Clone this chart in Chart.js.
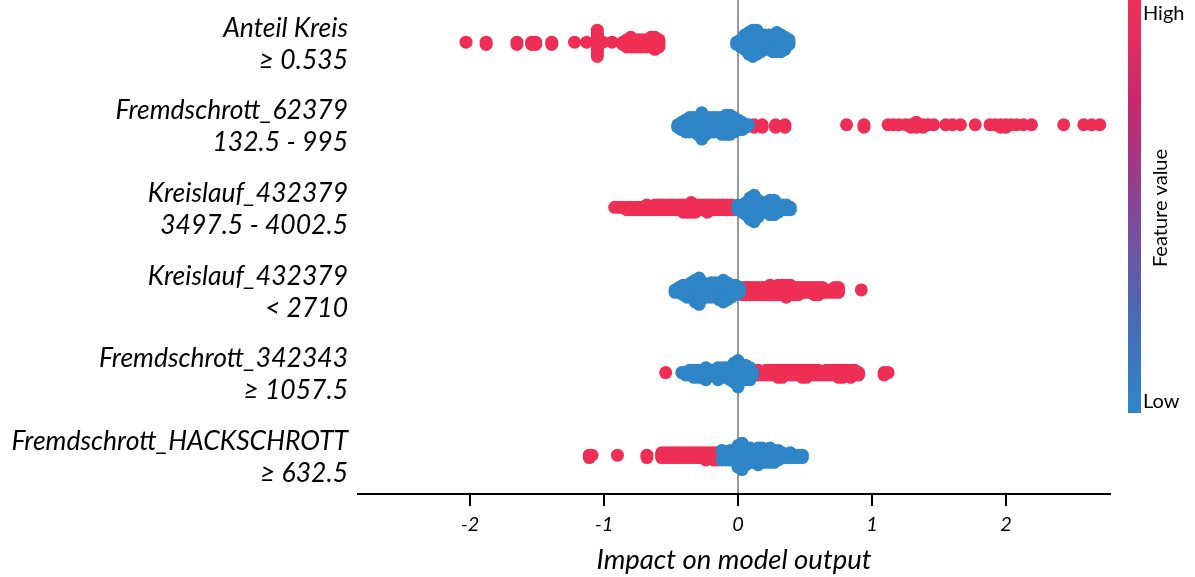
<!DOCTYPE html>
<html><head><meta charset="utf-8">
<script src="https://cdn.jsdelivr.net/npm/chart.js@4/dist/chart.umd.min.js"></script>
<style>html,body{margin:0;padding:0;background:#fff;}#wrap{width:1195px;height:577px;}</style>
</head><body><div id="wrap"><canvas id="c" width="1195" height="577"></canvas></div>
<script>
// ---------- DATA ----------
const featureNames = ['Anteil Kreis', 'Fremdschrott_62379', 'Kreislauf_432379', 'Kreislauf_432379', 'Fremdschrott_342343', 'Fremdschrott_HACKSCHROTT'];
const featureRanges = ['\u2265 0.535', '132.5 - 995', '3497.5 - 4002.5', '< 2710', '\u2265 1057.5', '\u2265 632.5'];
const xTickValues = [-2, -1, 0, 1, 2];
const xAxisTitle = 'Impact on model output';
const colorbarLabels = ['High', 'Low', 'Feature value'];

// SHAP values (x) and number of samples at each value; "High" = high feature value (red), "Low" = low (blue)
const r0HighShap  = [-2.03, -1.88, -1.65, -1.54, -1.51, -1.39, -1.22, -1.13, -1.05, -1.01, -0.94, -0.86, -0.83, -0.80, -0.77, -0.74, -0.71, -0.68, -0.65, -0.62, -0.59];
const r0HighCount = [1, 2, 2, 2, 2, 2, 1, 1, 12, 1, 1, 2, 4, 5, 4, 4, 4, 4, 5, 6, 4];
const r0LowShap   = [-0.01, 0.02, 0.05, 0.08, 0.11, 0.14, 0.17, 0.20, 0.23, 0.26, 0.29, 0.32, 0.35, 0.38];
const r0LowCount  = [2, 4, 7, 10, 12, 11, 8, 7, 7, 8, 9, 8, 6, 3];

const r1HighShap  = [0.12, 0.18, 0.28, 0.35, 0.81, 0.94, 1.12, 1.16, 1.20, 1.25, 1.29, 1.33, 1.38, 1.42, 1.46, 1.55, 1.60, 1.66, 1.77, 1.88, 1.92, 1.96, 2.00, 2.04, 2.08, 2.13, 2.19, 2.43, 2.58, 2.64, 2.70];
const r1HighCount = [2, 2, 2, 2, 1, 2, 1, 1, 1, 1, 2, 3, 2, 1, 1, 1, 1, 1, 1, 1, 1, 2, 2, 1, 1, 1, 1, 1, 1, 1, 1];
const r1LowShap   = [-0.45, -0.42, -0.39, -0.36, -0.33, -0.30, -0.27, -0.24, -0.21, -0.18, -0.15, -0.12, -0.09, -0.06, -0.03, 0.00, 0.03, 0.06, 0.08];
const r1LowCount  = [2, 4, 6, 7, 7, 8, 12, 8, 7, 7, 7, 8, 9, 9, 7, 5, 4, 2, 1];

const r2HighShap  = [-0.92, -0.89, -0.86, -0.83, -0.80, -0.77, -0.74, -0.71, -0.68, -0.65, -0.62, -0.59, -0.56, -0.53, -0.50, -0.47, -0.44, -0.41, -0.38, -0.35, -0.32, -0.29, -0.26, -0.23, -0.20, -0.17, -0.14, -0.11, -0.08, -0.05, -0.02];
const r2HighCount = [1, 1, 1, 2, 2, 2, 2, 2, 3, 2, 3, 3, 3, 3, 3, 3, 3, 4, 4, 5, 4, 3, 3, 4, 3, 3, 3, 3, 3, 3, 2];
const r2LowShap   = [0.00, 0.03, 0.06, 0.09, 0.12, 0.15, 0.18, 0.21, 0.24, 0.27, 0.30, 0.33, 0.36, 0.39];
const r2LowCount  = [3, 4, 6, 10, 12, 8, 5, 5, 7, 7, 4, 3, 3, 2];

const r3HighShap  = [0.03, 0.06, 0.09, 0.12, 0.15, 0.18, 0.21, 0.24, 0.27, 0.30, 0.33, 0.36, 0.39, 0.42, 0.45, 0.48, 0.51, 0.54, 0.57, 0.60, 0.63, 0.66, 0.69, 0.72, 0.75, 0.92];
const r3HighCount = [4, 4, 4, 4, 4, 4, 4, 5, 4, 5, 5, 6, 5, 4, 4, 3, 3, 3, 4, 4, 3, 2, 2, 3, 3, 1];
const r3LowShap   = [-0.47, -0.44, -0.41, -0.38, -0.35, -0.32, -0.29, -0.26, -0.23, -0.20, -0.17, -0.14, -0.11, -0.08, -0.05, -0.02, 0.01];
const r3LowCount  = [2, 3, 5, 6, 7, 10, 12, 7, 6, 7, 7, 8, 10, 8, 6, 5, 3];

const r4HighShap  = [-0.54, -0.24, -0.20, -0.17, 0.03, 0.06, 0.09, 0.12, 0.15, 0.18, 0.21, 0.24, 0.27, 0.30, 0.33, 0.36, 0.39, 0.42, 0.45, 0.48, 0.51, 0.54, 0.57, 0.60, 0.63, 0.66, 0.69, 0.72, 0.75, 0.78, 0.81, 0.84, 0.87, 0.90, 1.09, 1.12];
const r4HighCount = [1, 3, 3, 3, 2, 3, 3, 3, 3, 2, 3, 3, 3, 4, 4, 3, 3, 3, 3, 4, 4, 3, 3, 3, 2, 3, 3, 3, 4, 4, 3, 4, 3, 2, 2, 1];
const r4LowShap   = [-0.42, -0.39, -0.36, -0.33, -0.30, -0.27, -0.24, -0.21, -0.18, -0.15, -0.12, -0.09, -0.06, -0.03, 0.00, 0.03, 0.06, 0.09, 0.11];
const r4LowCount  = [1, 2, 3, 4, 4, 4, 3, 3, 3, 6, 5, 5, 6, 9, 12, 5, 4, 3, 2];

const r5HighShap  = [-1.11, -1.09, -0.90, -0.68, -0.57, -0.54, -0.51, -0.48, -0.45, -0.42, -0.39, -0.36, -0.33, -0.30, -0.27, -0.24, -0.21, -0.18, -0.15, -0.12, -0.09, -0.06, -0.03];
const r5HighCount = [2, 1, 1, 2, 3, 3, 3, 3, 3, 3, 3, 3, 3, 3, 3, 4, 3, 4, 4, 3, 2, 2, 1];
const r5LowShap   = [-0.12, -0.09, -0.06, -0.03, 0.00, 0.03, 0.06, 0.09, 0.12, 0.15, 0.18, 0.21, 0.24, 0.27, 0.30, 0.33, 0.36, 0.39, 0.42, 0.45, 0.48];
const r5LowCount  = [2, 2, 3, 4, 10, 12, 8, 7, 6, 8, 7, 6, 7, 6, 5, 3, 2, 3, 2, 2, 2];

// ---------- STYLE ----------
const RED = '#EE2E55', BLUE = '#2E85C7';
const FONT = "Lato, 'Open Sans', 'Liberation Sans', sans-serif";
const SWARM_STEP = 0.029; // vertical spacing between stacked points (row units)

// ---------- BEESWARM LAYOUT (like shap: stack points that share a bin) ----------
const rows = [
  [r0HighShap, r0HighCount, r0LowShap, r0LowCount],
  [r1HighShap, r1HighCount, r1LowShap, r1LowCount],
  [r2HighShap, r2HighCount, r2LowShap, r2LowCount],
  [r3HighShap, r3HighCount, r3LowShap, r3LowCount],
  [r4HighShap, r4HighCount, r4LowShap, r4LowCount],
  [r5HighShap, r5HighCount, r5LowShap, r5LowCount]
];
const highPts = [], lowPts = [];
rows.forEach((r, i) => {
  const bins = new Map();
  const add = (shap, cnt, target) => shap.forEach((v, j) => {
    const key = Math.round(v * 100);
    let layer = bins.get(key) || 0;
    for (let k = 0; k < cnt[j]; k++) {
      const off = Math.ceil(layer / 2) * (layer % 2 ? 1 : -1);
      target.push({ x: v, y: i + off * SWARM_STEP });
      layer++;
    }
    bins.set(key, layer);
  });
  add(r[0], r[1], highPts);
  add(r[2], r[3], lowPts);
});

// ---------- PLUGINS ----------
const labelsPlugin = {
  id: 'labels',
  afterDraw(chart) {
    const ctx = chart.ctx, ys = chart.scales.y;
    ctx.save();
    ctx.fillStyle = '#000';
    ctx.textAlign = 'right';
    ctx.textBaseline = 'middle';
    ctx.font = 'italic 26.5px ' + FONT;
    featureNames.forEach((n, i) => {
      const y = ys.getPixelForValue(i);
      ctx.fillText(n, 348, y - 14);
      ctx.fillText(featureRanges[i], 348, y + 18);
    });
    // colorbar
    const top = 0, bottom = 413, x0 = 1128, w = 13;
    const g = ctx.createLinearGradient(0, top, 0, bottom);
    g.addColorStop(0, '#F03058');
    g.addColorStop(0.25, '#C8296E');
    g.addColorStop(0.5, '#874596');
    g.addColorStop(0.75, '#4D68B4');
    g.addColorStop(1, '#2E86C8');
    ctx.fillStyle = g;
    ctx.fillRect(x0, top, w, bottom - top);
    ctx.fillStyle = '#000';
    ctx.font = '20px ' + FONT;
    ctx.textAlign = 'left';
    ctx.fillText(colorbarLabels[0], 1143, 14);
    ctx.fillText(colorbarLabels[1], 1143, 402);
    ctx.translate(1161, 208);
    ctx.rotate(-Math.PI / 2);
    ctx.textAlign = 'center';
    ctx.fillText(colorbarLabels[2], 0, 0);
    ctx.restore();
  }
};

Chart.defaults.font.family = FONT;
new Chart(document.getElementById('c'), {
  type: 'scatter',
  data: {
    datasets: [
      { label: 'Low', data: lowPts, backgroundColor: BLUE, borderWidth: 0, pointRadius: 6.5, pointHoverRadius: 6.5 },
      { label: 'High', data: highPts, backgroundColor: RED, borderWidth: 0, pointRadius: 6.5, pointHoverRadius: 6.5 }
    ]
  },
  options: {
    responsive: false,
    animation: false,
    devicePixelRatio: 1,
    layout: { autoPadding: false, padding: { left: 358, right: 85, top: 0, bottom: 0 } },
    plugins: { legend: { display: false }, tooltip: { enabled: false } },
    scales: {
      x: {
        type: 'linear', position: 'bottom',
        min: -2.836, max: 2.776,
        afterFit: s => { s.height = 83; },
        afterBuildTicks: s => { s.ticks = xTickValues.map(v => ({ value: v })); },
        ticks: { color: '#000', padding: 7, font: { size: 20, style: 'italic' }, callback: v => String(v), maxRotation: 0 },
        grid: {
          color: c => (c.tick && c.tick.value === 0) ? '#999999' : 'rgba(0,0,0,0)',
          lineWidth: 2, drawTicks: true, tickLength: 12, tickColor: '#000', tickWidth: 2
        },
        border: { display: true, color: '#000', width: 2 },
        title: { display: true, text: xAxisTitle, color: '#000', font: { size: 27.5, style: 'italic' }, padding: { top: 0, bottom: 0 } }
      },
      y: { type: 'linear', reverse: true, min: -0.51, max: 5.47, display: false }
    }
  },
  plugins: [labelsPlugin]
});
</script>
</body></html>
